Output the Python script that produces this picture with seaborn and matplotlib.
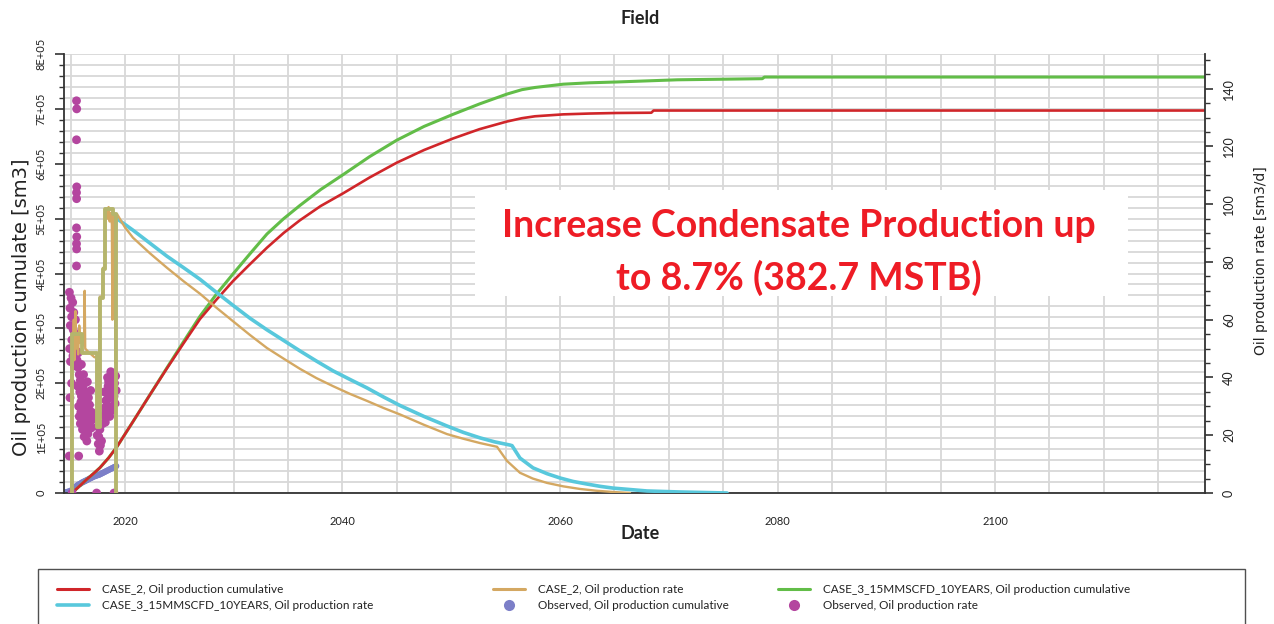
import matplotlib
matplotlib.use("Agg")
import matplotlib.pyplot as plt
import matplotlib.ticker as mticker
from matplotlib.patches import Rectangle
from matplotlib.lines import Line2D
import seaborn as sns

# ---------------- data ----------------
# CASE_2 cumulative oil production [sm3]
case2_cum_year = [2015.13, 2015.8, 2016.5, 2017.2, 2017.7, 2018.5, 2019.26, 2020.0, 2020.74,
                  2022.3, 2023.86, 2025.4, 2026.9, 2028.4, 2029.93, 2031.5, 2033.06, 2034.6,
                  2036.09, 2038.0, 2040.05, 2042.5, 2045.0, 2047.5, 2050.16, 2052.6, 2055.13,
                  2056.5, 2057.7, 2060.3, 2062.7, 2065.2, 2068.4, 2068.6, 2119.3]
case2_cum = [0, 0.12e5, 0.25e5, 0.37e5, 0.46e5, 0.64e5, 0.84e5, 1.07e5, 1.30e5,
             1.79e5, 2.27e5, 2.73e5, 3.17e5, 3.52e5, 3.86e5, 4.17e5, 4.47e5, 4.74e5,
             4.97e5, 5.23e5, 5.46e5, 5.75e5, 6.02e5, 6.25e5, 6.46e5, 6.63e5, 6.77e5,
             6.83e5, 6.865e5, 6.90e5, 6.915e5, 6.925e5, 6.93e5, 6.97e5, 6.97e5]

# CASE_3_15MMSCFD_10YEARS cumulative oil production [sm3]
case3_cum_year = [2015.13, 2015.8, 2016.5, 2017.2, 2017.7, 2018.5, 2019.26, 2020.0, 2020.74,
                  2022.3, 2023.86, 2025.4, 2026.9, 2028.4, 2029.93, 2031.5, 2033.06, 2034.6,
                  2036.09, 2038.0, 2040.05, 2042.5, 2045.0, 2047.5, 2050.16, 2052.6, 2055.13,
                  2056.5, 2057.7, 2060.3, 2062.7, 2065.2, 2070.8, 2078.6, 2078.8, 2119.3]
case3_cum = [0, 0.12e5, 0.25e5, 0.37e5, 0.46e5, 0.64e5, 0.84e5, 1.07e5, 1.30e5,
             1.79e5, 2.28e5, 2.76e5, 3.22e5, 3.62e5, 3.99e5, 4.36e5, 4.72e5, 5.00e5,
             5.24e5, 5.53e5, 5.80e5, 6.13e5, 6.43e5, 6.68e5, 6.90e5, 7.09e5, 7.27e5,
             7.35e5, 7.39e5, 7.45e5, 7.475e5, 7.49e5, 7.53e5, 7.55e5, 7.58e5, 7.58e5]

# CASE_2 oil production rate [sm3/d] (history then forecast)
case2_rate_year = [2015.10, 2015.15, 2015.20, 2015.30, 2015.35, 2015.45, 2015.50, 2015.60, 2015.70,
                   2015.80, 2015.90, 2016.05, 2016.25, 2016.30, 2016.35, 2016.60, 2016.90, 2017.20,
                   2017.40, 2017.45, 2017.55, 2017.65, 2017.70, 2017.95, 2018.00, 2018.15, 2018.20,
                   2018.40, 2018.50, 2018.60, 2018.70, 2018.80, 2018.85, 2018.90, 2019.00, 2019.10,
                   2019.15, 2019.20, 2019.26, 2020.00, 2020.74, 2022.30, 2023.86, 2025.40, 2026.90,
                   2028.40, 2029.93, 2031.50, 2033.06, 2034.60, 2036.09, 2037.60, 2039.13, 2040.70,
                   2042.25, 2043.80, 2045.29, 2047.50, 2049.61, 2051.10, 2052.64, 2054.21, 2055.13,
                   2056.32, 2057.50, 2058.80, 2060.30, 2061.84, 2063.30, 2064.87, 2066.44]
case2_rate = [0, 52, 44, 60, 46, 63, 50, 55, 48,
              58, 52, 53, 51, 70, 50, 49, 48, 47,
              47, 30, 44, 25, 68, 68, 78, 78, 98,
              95, 99, 94, 97, 93, 60, 97, 95, 96,
              45, 96, 96.7, 92.0, 88.4, 83.0, 78.0, 73.3, 69.0,
              64.2, 59.5, 54.7, 50.2, 46.5, 43.0, 39.8, 37.0, 34.3,
              31.9, 29.4, 27.2, 23.6, 20.4, 18.8, 17.3, 16.0, 11.1,
              7.0, 5.0, 3.5, 2.3, 1.4, 0.8, 0.35, 0]

# CASE_3_15MMSCFD_10YEARS oil production rate [sm3/d] (forecast)
case3_rate_year = [2019.26, 2020.00, 2020.74, 2022.30, 2023.86, 2025.40, 2026.90, 2028.40, 2029.93,
                   2031.50, 2033.06, 2034.60, 2036.09, 2037.60, 2039.13, 2040.70, 2042.25, 2043.80,
                   2045.29, 2047.50, 2049.61, 2051.10, 2052.64, 2054.00, 2055.40, 2055.59, 2056.32,
                   2057.52, 2058.80, 2060.00, 2061.20, 2062.48, 2063.70, 2064.87, 2068.00, 2071.03,
                   2075.36]
case3_rate = [95.0, 93.0, 91.0, 86.5, 82.0, 78.0, 74.0, 69.5, 65.0,
              60.5, 56.5, 52.8, 49.2, 45.7, 42.3, 39.3, 36.4, 33.2,
              30.3, 26.5, 23.2, 21.0, 19.1, 17.7, 16.6, 16.4, 12.1,
              8.7, 6.7, 5.2, 4.0, 3.1, 2.3, 1.7, 0.7, 0.35,
              0]

# shared history rate, stepped [sm3/d]
hist_rate_year = [2015.10, 2015.10, 2016.10, 2016.10, 2017.40, 2017.40, 2017.70, 2017.70,
                  2018.00, 2018.00, 2018.20, 2018.20, 2018.90, 2018.90, 2019.15, 2019.15]
hist_rate = [0, 55, 55, 48.5, 48.5, 23, 23, 67.5,
             67.5, 77.5, 77.5, 98.5, 98.5, 96.5, 96.5, 0]

# Observed cumulative oil production [sm3]
obs_cum_year = [2014.4, 2014.5, 2014.6, 2014.7, 2014.8, 2014.9, 2015.0, 2015.1, 2015.2, 2015.3,
                2015.4, 2015.5, 2015.6, 2015.7, 2015.8, 2015.9, 2016.0, 2016.1, 2016.2, 2016.3,
                2016.4, 2016.5, 2016.6, 2016.7, 2016.8, 2016.9, 2017.0, 2017.1, 2017.2, 2017.3,
                2017.4, 2017.5, 2017.6, 2017.7, 2017.8, 2017.9, 2018.0, 2018.1, 2018.2, 2018.3,
                2018.4, 2018.5, 2018.6, 2018.7, 2018.8, 2018.9, 2019.0, 2019.1, 2019.2]
obs_cum = [0.005e5, 0.01e5, 0.015e5, 0.02e5, 0.025e5, 0.03e5, 0.04e5, 0.05e5, 0.07e5, 0.09e5,
           0.105e5, 0.12e5, 0.135e5, 0.15e5, 0.16e5, 0.17e5, 0.185e5, 0.195e5, 0.205e5, 0.215e5,
           0.225e5, 0.235e5, 0.245e5, 0.255e5, 0.265e5, 0.275e5, 0.285e5, 0.295e5, 0.305e5, 0.31e5,
           0.32e5, 0.325e5, 0.33e5, 0.34e5, 0.35e5, 0.36e5, 0.37e5, 0.38e5, 0.39e5, 0.40e5,
           0.41e5, 0.42e5, 0.43e5, 0.44e5, 0.45e5, 0.46e5, 0.47e5, 0.48e5, 0.49e5]

# Observed oil production rate [sm3/d]
obs_rate_year = [
    2015.55, 2015.57, 2015.55, 2015.57, 2015.55, 2015.56, 2015.55, 2015.57, 2015.55, 2015.56, 2015.55,
    2014.90, 2015.05, 2015.20, 2014.95, 2015.30, 2015.10, 2015.45, 2014.98, 2015.25, 2015.50, 2015.12,
    2015.38, 2014.92, 2015.60, 2015.22, 2015.00, 2015.35,
    2014.95, 2014.88, 2015.75, 2015.10,
    2015.60, 2015.70, 2015.80, 2015.90, 2015.65, 2015.85, 2016.00, 2016.10, 2015.75, 2015.95,
    2016.20, 2016.05, 2016.30, 2016.40, 2016.25, 2016.50, 2016.15, 2016.35, 2016.45, 2016.60,
    2016.70, 2016.80, 2016.90, 2016.55, 2016.65, 2016.75, 2016.95, 2015.70, 2016.00, 2016.20,
    2016.40, 2016.10, 2015.90, 2016.60, 2017.05, 2016.85, 2015.80, 2016.30, 2015.95, 2016.50,
    2017.45, 2017.55, 2017.65, 2017.75, 2017.60, 2017.85, 2017.50, 2017.40, 2017.70,
    2017.95, 2018.05, 2018.15, 2018.25, 2018.35, 2018.45, 2018.55, 2018.65, 2018.75, 2018.85,
    2018.95, 2019.05, 2019.15, 2019.20, 2018.30, 2018.60, 2018.90, 2019.10, 2018.10, 2018.40,
    2018.70, 2018.80, 2019.00, 2018.20, 2018.50,
    2015.15, 2017.40, 2019.00]
obs_rate = [
    135.8, 133.0, 122.3, 106.0, 104.0, 101.9, 91.8, 88.7, 86.3, 84.5, 78.6,
    69.5, 67.5, 66.0, 64.0, 62.5, 61.0, 60.0, 58.0, 56.5, 55.0, 53.0,
    51.5, 50.0, 49.0, 47.5, 45.5, 44.0,
    33.0, 12.8, 12.8, 38.0,
    46.0, 43.5, 41.0, 39.0, 37.0, 35.0, 33.5, 31.5, 30.0, 28.0,
    27.0, 25.0, 23.5, 21.5, 19.5, 18.0, 36.0, 34.0, 31.0, 28.5,
    26.5, 24.5, 22.5, 38.5, 33.0, 30.5, 28.0, 48.5, 44.5, 41.0,
    29.0, 22.0, 24.0, 20.5, 25.5, 35.5, 26.5, 38.0, 31.5, 25.0,
    20.0, 17.0, 14.5, 16.5, 19.5, 18.0, 23.0, 26.0, 22.0,
    24.0, 27.0, 29.5, 32.0, 34.5, 37.0, 30.0, 33.0, 36.0, 39.0,
    41.0, 38.0, 40.5, 35.5, 27.0, 26.5, 30.0, 31.0, 35.0, 40.0,
    42.0, 28.5, 33.5, 24.5, 38.5,
    0.0, 0.0, 0.0]

legend_labels = ["CASE_2, Oil production cumulative",
                 "CASE_3_15MMSCFD_10YEARS, Oil production rate",
                 "CASE_2, Oil production rate",
                 "Observed, Oil production cumulative",
                 "CASE_3_15MMSCFD_10YEARS, Oil production cumulative",
                 "Observed, Oil production rate"]

# ---------------- style ----------------
sns.set_style("white")
plt.rcParams["font.family"] = ["Lato", "DejaVu Sans"]

C_RED = "#d0262a"
C_GREEN = "#62bd48"
C_CYAN = "#58c8dc"
C_TAN = "#d4a862"
C_OLIVE = "#b5b56c"
C_BLUE = "#7c7fc8"
C_MAGENTA = "#b4469f"
C_AXIS = "#333333"
C_TEXT = "#222222"

W, H = 1274, 624
fig = plt.figure(figsize=(W / 100, H / 100), dpi=100)
ax = fig.add_axes([64 / W, 1 - 493 / H, (1205 - 64) / W, (493 - 54) / H])
ax2 = ax.twinx()

# grid and annotation backdrop
ax.set_axisbelow(True)
ax.grid(True, which="both", color="#d8d8d8", lw=1.3)
ax.add_patch(Rectangle((0.360, 0.449), 0.5725, 0.241, transform=ax.transAxes,
                       facecolor="white", edgecolor="none", zorder=1.5))

# cumulative series (left axis)
sns.scatterplot(x=obs_cum_year, y=obs_cum, ax=ax, color=C_BLUE, s=20,
                edgecolor="none", legend=False, zorder=2)
sns.lineplot(x=case3_cum_year, y=case3_cum, ax=ax, color=C_GREEN, lw=2.2,
             sort=False, estimator=None, legend=False, zorder=3)
sns.lineplot(x=case2_cum_year, y=case2_cum, ax=ax, color=C_RED, lw=1.9,
             sort=False, estimator=None, legend=False, zorder=4)

# rate series (right axis)
sns.scatterplot(x=obs_rate_year, y=obs_rate, ax=ax2, color=C_MAGENTA, s=40,
                edgecolor="none", legend=False, zorder=2)
sns.lineplot(x=case3_rate_year, y=case3_rate, ax=ax2, color=C_CYAN, lw=2.6,
             sort=False, estimator=None, legend=False, zorder=4)
sns.lineplot(x=case2_rate_year, y=case2_rate, ax=ax2, color=C_TAN, lw=1.7,
             sort=False, estimator=None, legend=False, zorder=5)
sns.lineplot(x=hist_rate_year, y=hist_rate, ax=ax2, color=C_OLIVE, lw=2.8,
             sort=False, estimator=None, legend=False, zorder=6)

# ---------------- axes ----------------
ax.set_xlim(2014.4, 2119.3)
ax.set_ylim(0, 8e5)
ax2.set_ylim(0, 152)

ax.xaxis.set_major_locator(mticker.MultipleLocator(20))
ax.xaxis.set_minor_locator(mticker.MultipleLocator(5))
ax.xaxis.set_major_formatter(mticker.FormatStrFormatter("%d"))
ax.yaxis.set_major_locator(mticker.MultipleLocator(1e5))
ax.yaxis.set_minor_locator(mticker.MultipleLocator(2e4))
ax.yaxis.set_major_formatter(mticker.FuncFormatter(
    lambda v, p: "0" if v == 0 else f"{int(round(v / 1e5))}E+05"))
ax2.yaxis.set_major_locator(mticker.MultipleLocator(20))
ax2.yaxis.set_minor_locator(mticker.MultipleLocator(5))

for s in ["top", "right"]:
    ax.spines[s].set_visible(False)
for s in ["top", "left", "bottom"]:
    ax2.spines[s].set_visible(False)
for sp in [ax.spines["left"], ax.spines["bottom"], ax2.spines["right"]]:
    sp.set_color(C_AXIS)
    sp.set_linewidth(1.3)

ax.tick_params(axis="both", which="major", direction="out", length=6.5, width=1.2,
               color=C_AXIS, labelcolor=C_TEXT)
ax.tick_params(axis="both", which="minor", direction="out", length=3.5, width=1.0, color=C_AXIS)
ax.tick_params(axis="x", which="major", labelsize=8, pad=10)
ax.tick_params(axis="y", which="major", labelsize=8, pad=6)
ax2.tick_params(axis="y", which="major", direction="out", length=6, width=1.2,
                color=C_AXIS, labelsize=9, pad=7, labelcolor=C_TEXT)
ax2.tick_params(axis="y", which="minor", direction="out", length=3.5, width=1.0, color=C_AXIS)

for lab in ax.get_yticklabels():
    lab.set_rotation(90)
    lab.set_va("center")
for lab in ax2.get_yticklabels():
    lab.set_rotation(90)
    lab.set_va("center")

ax.set_xlabel("Date", fontsize=13, fontweight="bold", color=C_TEXT)
ax.xaxis.set_label_coords(0.5048, -0.073)
ax.set_ylabel("Oil production cumulate [sm3]", fontsize=14, color=C_TEXT,
              family="DejaVu Sans")
ax.yaxis.set_label_coords(-0.029, 0.424)
ax2.set_ylabel("Oil production rate [sm3/d]", fontsize=10, color=C_TEXT,
               family="DejaVu Sans")
ax2.yaxis.set_label_coords(1.043, 0.53)

fig.text(640 / W, 1 - 18 / H, "Field", ha="center", va="center",
         fontsize=13, fontweight="bold", color=C_TEXT)

# callout text
fig.text(799 / W, 1 - 237 / H, "Increase Condensate Production up", ha="center",
         va="baseline", fontsize=27, fontweight="bold", color="#ee1c25", zorder=10)
fig.text(799 / W, 1 - 290 / H, "to 8.7% (382.7 MSTB)", ha="center",
         va="baseline", fontsize=27, fontweight="bold", color="#ee1c25", zorder=10)

# ---------------- legend ----------------
fig.patches.append(Rectangle((38 / W, -0.02), (1245 - 38) / W, 0.02 + (624 - 569) / H,
                             transform=fig.transFigure, fill=False,
                             edgecolor="#505050", lw=1.0))

def line_handle(c, lw):
    return Line2D([], [], color=c, lw=lw)

def dot_handle(c):
    return Line2D([], [], color=c, lw=0, marker="o", markersize=8, markeredgewidth=0)

columns = [
    ([line_handle(C_RED, 2.2), line_handle(C_CYAN, 2.6)], legend_labels[0:2], 57),
    ([line_handle(C_TAN, 2.2), dot_handle(C_BLUE)], legend_labels[2:4], 493),
    ([line_handle(C_GREEN, 2.2), dot_handle(C_MAGENTA)], legend_labels[4:6], 778),
]
for handles, labels, x0 in columns:
    fig.legend(handles, labels, loc="upper left", bbox_to_anchor=(x0 / W, 1 - 584 / H),
               frameon=False, fontsize=8.5, handlelength=2.7, handletextpad=1.1,
               labelspacing=0.45, borderpad=0, borderaxespad=0, labelcolor=C_TEXT)

fig.savefig("out.png", dpi=100)
